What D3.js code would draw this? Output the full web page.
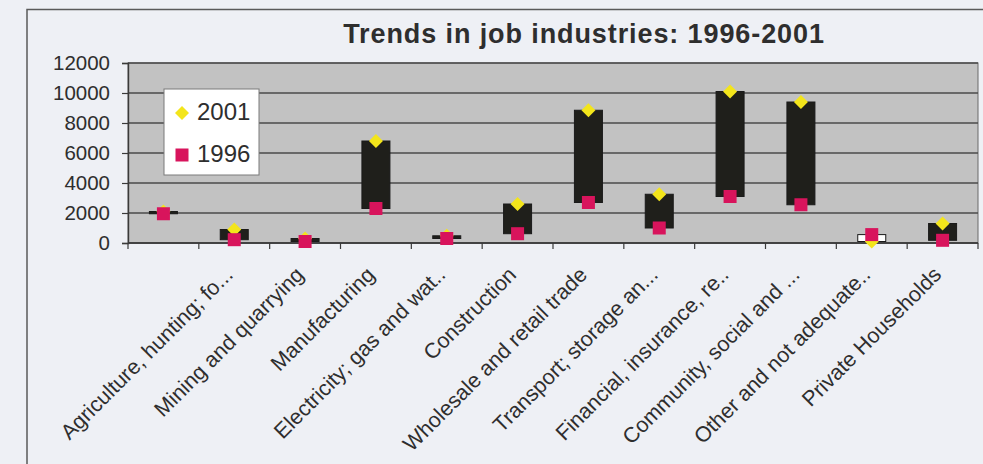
<!DOCTYPE html>
<html>
<head>
<meta charset="utf-8">
<script src="https://cdn.jsdelivr.net/npm/d3@7"></script>
<style>
  html, body { margin: 0; padding: 0; background: #eef0f5; }
  svg { display: block; }
  text { font-family: "Liberation Sans", Arial, sans-serif; fill: #2e2e2e; }
</style>
</head>
<body>
<svg id="chart" width="983" height="464"></svg>
<script>
// Employment by industry, 1996 and 2001
const categories = [
  "",
  "Agriculture, hunting; fo...",
  "Mining and quarrying",
  "Manufacturing",
  "Electricity; gas and wat..",
  "Construction",
  "Wholesale and retail trade",
  "Transport; storage an...",
  "Financial, insurance, re..",
  "Community, social and ...",
  "Other and not adequate..",
  "Private Households"
];
const jobs2001 = [2100, 900, 300, 6800, 480, 2600, 8850, 3250, 10100, 9400, 100, 1300];
const jobs1996 = [1950, 220, 100, 2300, 300, 620, 2700, 1000, 3100, 2550, 560, 180];
const yTicks = [0, 2000, 4000, 6000, 8000, 10000, 12000];
const seriesNames = ["2001", "1996"];

const svg = d3.select("#chart");
const W = 983, H = 464;
const plot = { left: 128, right: 978, top: 63, bottom: 243 };

// chart frame
svg.append("rect")
  .attr("x", 27).attr("y", 9.5).attr("width", 1000).attr("height", 500)
  .attr("fill", "#eef0f5").attr("stroke", "#5a5a5a").attr("stroke-width", 1.5);

const x = d3.scaleBand().domain(d3.range(categories.length))
  .range([plot.left, plot.right]).paddingInner(0).paddingOuter(0);
const y = d3.scaleLinear().domain([0, 12000]).range([plot.bottom, plot.top]);

// plot area
svg.append("rect")
  .attr("x", plot.left).attr("y", plot.top)
  .attr("width", plot.right - plot.left).attr("height", plot.bottom - plot.top)
  .attr("fill", "#c2c2c2").attr("stroke", "#6a6a6a").attr("stroke-width", 1);

// gridlines
svg.append("g").selectAll("line").data(yTicks).join("line")
  .attr("x1", plot.left).attr("x2", plot.right)
  .attr("y1", d => y(d)).attr("y2", d => y(d))
  .attr("stroke", "#4a4a4a").attr("stroke-width", 1.4);

// y axis
const yAxis = svg.append("g")
  .attr("transform", `translate(${plot.left},0)`)
  .call(d3.axisLeft(y).tickValues(yTicks).tickSize(6).tickPadding(12).tickFormat(d3.format("d")));
yAxis.select(".domain").attr("stroke", "#3a3a3a").attr("stroke-width", 1.4);
yAxis.selectAll(".tick line").attr("stroke", "#3a3a3a").attr("stroke-width", 1.2);
yAxis.selectAll(".tick text")
  .attr("font-size", "20.5px").attr("fill", "#2e2e2e")
  .style("font-family", "'Liberation Sans', Arial, sans-serif");

// x axis with ticks between categories
const xAxis = svg.append("g").attr("transform", `translate(0,${plot.bottom})`);
xAxis.append("line")
  .attr("x1", plot.left).attr("x2", plot.right)
  .attr("stroke", "#3a3a3a").attr("stroke-width", 1.4);
xAxis.selectAll("line.tick").data(d3.range(categories.length + 1)).join("line")
  .attr("class", "tick")
  .attr("x1", i => i < categories.length ? x(i) : plot.right)
  .attr("x2", i => i < categories.length ? x(i) : plot.right)
  .attr("y1", 0).attr("y2", 6)
  .attr("stroke", "#3a3a3a").attr("stroke-width", 1.2);

// category labels, rotated
svg.append("g").selectAll("text").data(categories).join("text")
  .attr("transform", (d, i) => `translate(${x(i) + x.bandwidth() / 2},${plot.bottom + 33}) rotate(-45)`)
  .attr("text-anchor", "end")
  .attr("font-size", "21.5px")
  .text(d => d);

// up/down bars between the two years
const barW = 28;
svg.append("g").selectAll("rect").data(categories).join("rect")
  .attr("x", (d, i) => x(i) + x.bandwidth() / 2 - barW / 2)
  .attr("width", barW)
  .attr("y", (d, i) => y(Math.max(jobs2001[i], jobs1996[i])))
  .attr("height", (d, i) => Math.max(1, Math.abs(y(jobs2001[i]) - y(jobs1996[i]))))
  .attr("fill", (d, i) => jobs2001[i] >= jobs1996[i] ? "#1f1f1b" : "#ffffff")
  .attr("stroke", "#1a1a1a").attr("stroke-width", 1);

// 2001 markers: yellow diamonds
const diamond = d3.symbol().type(d3.symbolSquare).size(98);
svg.append("g").selectAll("path").data(jobs2001).join("path")
  .attr("d", diamond)
  .attr("transform", (d, i) => `translate(${x(i) + x.bandwidth() / 2},${y(d)}) rotate(45)`)
  .attr("fill", "#f3e51b");

// 1996 markers: crimson squares
const sq = 13;
svg.append("g").selectAll("rect").data(jobs1996).join("rect")
  .attr("x", (d, i) => x(i) + x.bandwidth() / 2 - sq / 2)
  .attr("y", d => y(d) - sq / 2)
  .attr("width", sq).attr("height", sq)
  .attr("fill", "#d8145c");

// title
svg.append("text")
  .attr("x", 584).attr("y", 43)
  .attr("text-anchor", "middle")
  .attr("font-size", "27px").attr("font-weight", "bold")
  .attr("letter-spacing", "0.9px")
  .attr("fill", "#2a2a2a")
  .text("Trends in job industries: 1996-2001");

// legend
const lg = svg.append("g");
lg.append("rect")
  .attr("x", 164).attr("y", 89).attr("width", 95).attr("height", 86)
  .attr("fill", "#ffffff").attr("stroke", "#7a7a7a").attr("stroke-width", 1);
lg.append("path").attr("d", diamond)
  .attr("transform", "translate(182,113) rotate(45)").attr("fill", "#f3e51b");
lg.append("rect").attr("x", 182 - sq / 2).attr("y", 155 - sq / 2)
  .attr("width", sq).attr("height", sq).attr("fill", "#d8145c");
lg.selectAll("text.item").data(seriesNames).join("text")
  .attr("class", "item")
  .attr("x", 197).attr("y", (d, i) => i === 0 ? 120 : 162)
  .attr("font-size", "24px")
  .text(d => d);
</script>
</body>
</html>
